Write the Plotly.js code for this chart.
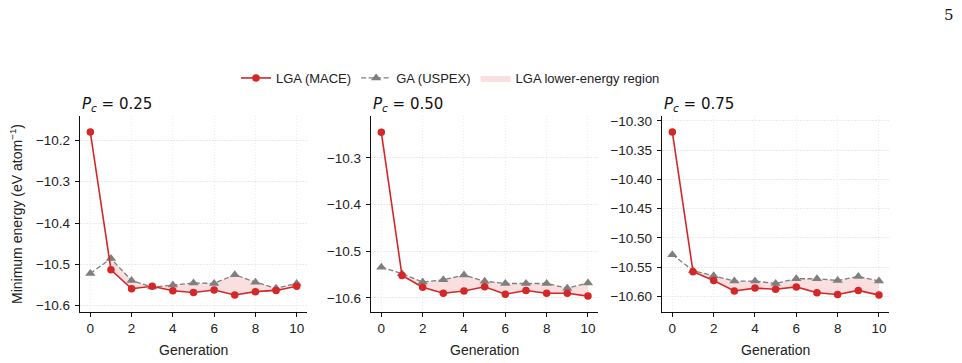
<!DOCTYPE html>
<html>
<head>
<meta charset="utf-8">
<script src="https://cdn.plot.ly/plotly-3.0.1.min.js"></script>
<style>
  html, body { margin: 0; padding: 0; background: #fff; }
  #chart { width: 962px; height: 363px; }
</style>
</head>
<body>
<div id="chart"></div>
<script>
// Generations of the search
const generations = [0, 1, 2, 3, 4, 5, 6, 7, 8, 9, 10];

// Minimum energy (eV/atom) per generation, crossover probability Pc = 0.25
const lgaPc025 = [-10.180, -10.513, -10.559, -10.553, -10.564, -10.568, -10.562, -10.574, -10.566, -10.563, -10.553];
const gaPc025  = [-10.522, -10.486, -10.539, -10.555, -10.550, -10.545, -10.546, -10.525, -10.543, -10.558, -10.546];

// Pc = 0.50
const lgaPc050 = [-10.245, -10.552, -10.577, -10.590, -10.585, -10.576, -10.592, -10.584, -10.590, -10.590, -10.596];
const gaPc050  = [-10.534, -10.548, -10.566, -10.561, -10.551, -10.564, -10.569, -10.569, -10.569, -10.579, -10.568];

// Pc = 0.75
const lgaPc075 = [-10.319, -10.558, -10.573, -10.591, -10.586, -10.588, -10.584, -10.594, -10.597, -10.590, -10.598];
const gaPc075  = [-10.529, -10.556, -10.565, -10.574, -10.574, -10.578, -10.570, -10.570, -10.573, -10.566, -10.574];

const panelLabels = ['0.25', '0.50', '0.75'];
const seriesNames = ['LGA (MACE)', 'GA (USPEX)', 'LGA lower-energy region'];
const axisTitleX = 'Generation';
const axisTitleY = 'Minimum energy (eV atom<sup>−1</sup>)';

const RED = '#d62728';
const GREY = '#7f7f7f';
const FILL = 'rgba(214,39,40,0.15)';
const FONT = 'Liberation Sans, Arial, sans-serif';

// Band between the GA curve and the LGA curve wherever LGA lies lower,
// with crossing points interpolated so the band closes cleanly.
function lowerBand(x, lga, ga) {
  const ux = [], uy = [], ly = [];
  for (let i = 0; i < x.length; i++) {
    ux.push(x[i]); uy.push(ga[i]); ly.push(Math.min(lga[i], ga[i]));
    if (i < x.length - 1) {
      const d0 = lga[i] - ga[i], d1 = lga[i + 1] - ga[i + 1];
      if (d0 * d1 < 0) {
        const t = d0 / (d0 - d1);
        const xc = x[i] + t * (x[i + 1] - x[i]);
        const yc = ga[i] + t * (ga[i + 1] - ga[i]);
        ux.push(xc); uy.push(yc); ly.push(yc);
      }
    }
  }
  return {
    x: ux.concat(ux.slice().reverse()),
    y: uy.concat(ly.slice().reverse())
  };
}

const W = 962, H = 363;
const panels = [
  { lga: lgaPc025, ga: gaPc025, x0: 80,  x1: 307,   yr: [-10.614, -10.140], dtick: 0.1,  fmt: '.1f' },
  { lga: lgaPc050, ga: gaPc050, x0: 371, x1: 598.3, yr: [-10.629, -10.209], dtick: 0.1,  fmt: '.1f' },
  { lga: lgaPc075, ga: gaPc075, x0: 662, x1: 889.3, yr: [-10.626, -10.291], dtick: 0.05, fmt: '.2f' }
];
const plotTop = 115.5, plotBottom = 311.5;

const traces = [];
const layout = {
  width: W, height: H,
  margin: { l: 0, r: 0, t: 0, b: 0 },
  paper_bgcolor: '#fff', plot_bgcolor: '#fff',
  font: { family: FONT, size: 14, color: '#222' },
  showlegend: true,
  legend: {
    orientation: 'h', x: 236 / W, xanchor: 'left', y: 1 - 78 / H, yanchor: 'middle',
    font: { family: FONT, size: 13, color: '#222' },
    traceorder: 'normal', itemwidth: 30, bgcolor: 'rgba(0,0,0,0)'
  },
  annotations: [],
  hovermode: false
};

panels.forEach((p, k) => {
  const sfx = k === 0 ? '' : String(k + 1);
  const band = lowerBand(generations, p.lga, p.ga);
  traces.push({
    x: band.x, y: band.y, xaxis: 'x' + sfx, yaxis: 'y' + sfx,
    type: 'scatter', mode: 'lines', fill: 'toself', fillcolor: FILL,
    line: { width: 0, color: FILL }, name: seriesNames[2],
    showlegend: k === 0, legendrank: 3
  });
  traces.push({
    x: generations, y: p.ga, xaxis: 'x' + sfx, yaxis: 'y' + sfx,
    type: 'scatter', mode: 'lines+markers', name: seriesNames[1],
    line: { color: GREY, width: 1.3, dash: '5px,2.5px' },
    marker: { symbol: 'triangle-up', size: 9, color: GREY },
    showlegend: k === 0, legendrank: 2
  });
  traces.push({
    x: generations, y: p.lga, xaxis: 'x' + sfx, yaxis: 'y' + sfx,
    type: 'scatter', mode: 'lines+markers', name: seriesNames[0],
    line: { color: RED, width: 1.6 },
    marker: { symbol: 'circle', size: 7.5, color: RED },
    showlegend: k === 0, legendrank: 1
  });

  const common = {
    showline: true, linecolor: '#111', linewidth: 1.2,
    ticks: 'outside', ticklen: 4, tickwidth: 1, tickcolor: '#111',
    showgrid: true, gridcolor: '#e6e6e6', gridwidth: 0.8, griddash: '1.5px,1.5px',
    zeroline: false, tickfont: { family: FONT, size: 13.5, color: '#222' },
    fixedrange: true
  };
  layout['xaxis' + sfx] = Object.assign({}, common, {
    domain: [p.x0 / W, p.x1 / W], range: [-0.5, 10.5],
    tickmode: 'linear', tick0: 0, dtick: 2, anchor: 'y' + sfx
  });
  layout['yaxis' + sfx] = Object.assign({}, common, {
    domain: [1 - plotBottom / H, 1 - plotTop / H], range: p.yr,
    tickmode: 'linear', tick0: -10.6, dtick: p.dtick, tickformat: p.fmt,
    anchor: 'x' + sfx, ticklabelstandoff: 2
  });

  // Panel title
  layout.annotations.push({
    xref: 'paper', yref: 'paper', x: p.x0 / W, y: 1 - 104 / H,
    xanchor: 'left', yanchor: 'middle', showarrow: false,
    text: '<i>P</i><sub><i>c</i></sub> = ' + panelLabels[k],
    font: { family: 'DejaVu Sans, sans-serif', size: 15, color: '#111' }
  });
  // x-axis title
  layout.annotations.push({
    xref: 'paper', yref: 'paper', x: (p.x0 + p.x1) / 2 / W, y: 1 - 350 / H,
    xanchor: 'center', yanchor: 'middle', showarrow: false,
    text: axisTitleX, font: { family: FONT, size: 14, color: '#222' }
  });
});

// y-axis title (shared, left panel)
layout.annotations.push({
  xref: 'paper', yref: 'paper', x: 16 / W, y: 1 - 214 / H,
  xanchor: 'center', yanchor: 'middle', showarrow: false, textangle: -90,
  text: axisTitleY, font: { family: FONT, size: 14, color: '#222' }
});

// Page number
layout.annotations.push({
  xref: 'paper', yref: 'paper', x: 949 / W, y: 1 - 15 / H,
  xanchor: 'center', yanchor: 'middle', showarrow: false,
  text: '5', font: { family: 'DejaVu Serif, Liberation Serif, serif', size: 15, color: '#111' }
});

Plotly.newPlot('chart', traces, layout, { staticPlot: true, displayModeBar: false });
</script>
</body>
</html>
